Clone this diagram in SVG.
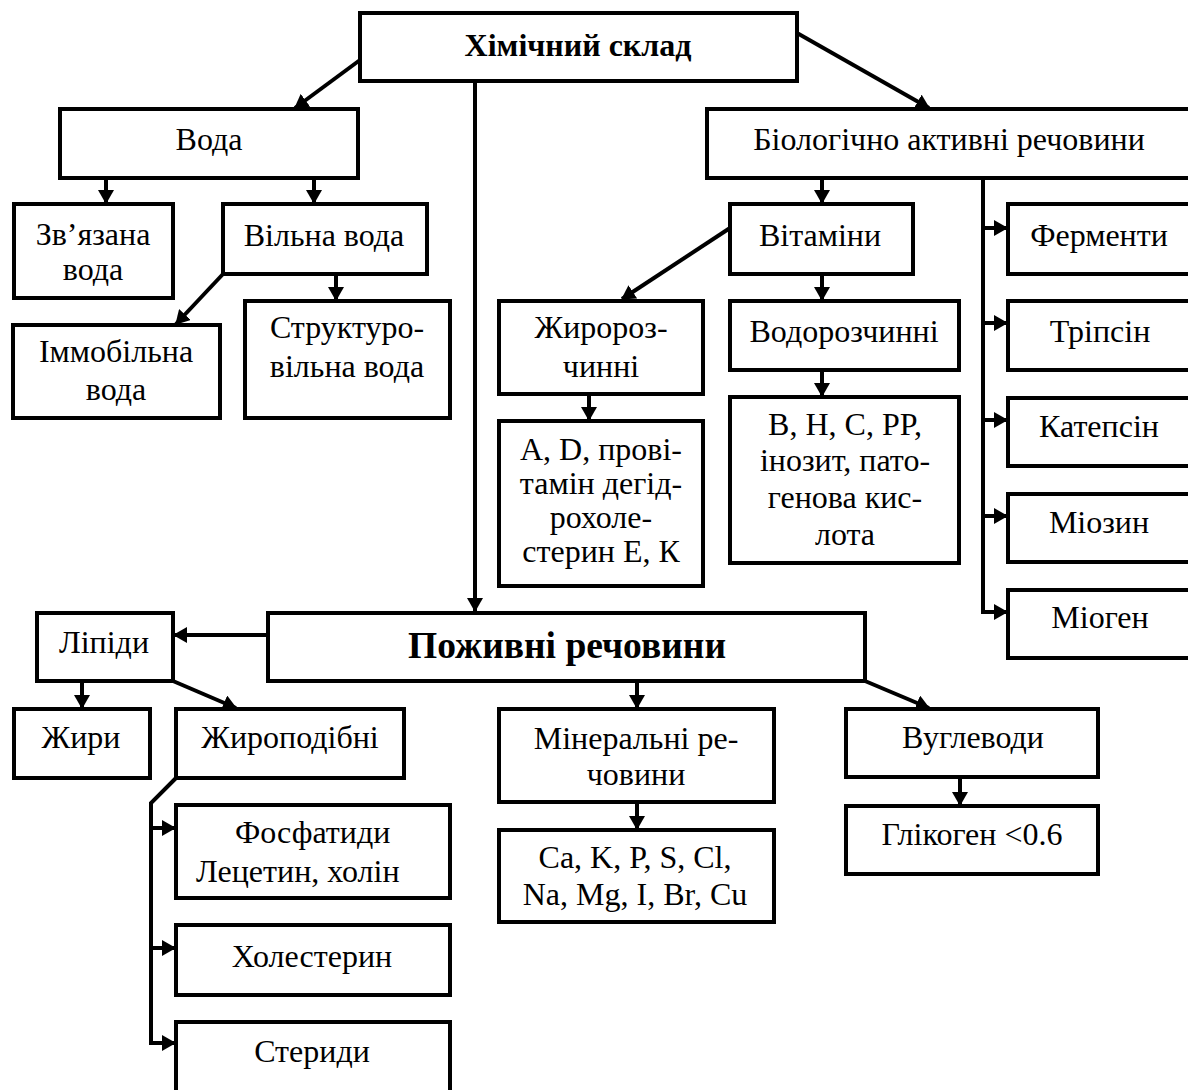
<svg xmlns="http://www.w3.org/2000/svg" width="1188" height="1090" viewBox="0 0 1188 1090">
<style>
rect{fill:#fff;stroke:#000;stroke-width:4}
text{font-family:"Liberation Serif","Times New Roman",serif;font-size:32px;fill:#000;text-anchor:middle}
.b{font-weight:bold;font-size:32px}
.bb{font-weight:bold;font-size:37.5px}
.st{text-anchor:start}
#connectors path,#connectors line{fill:none;stroke:#000;stroke-width:4}
</style>
<defs>
<marker id="ah" markerUnits="userSpaceOnUse" markerWidth="14" markerHeight="16" refX="13" refY="8" orient="auto">
<path d="M0,0 L14,8 L0,16 z" fill="#000"/>
</marker>
</defs>
<rect x="-10" y="-10" width="1210" height="1110" style="stroke:none"/>
<g id="connectors">
<line x1="360" y1="60" x2="295" y2="108" marker-end="url(#ah)"/>
<line x1="797" y1="33" x2="929" y2="108" marker-end="url(#ah)"/>
<line x1="475" y1="81" x2="475" y2="611" marker-end="url(#ah)"/>
<line x1="106" y1="178" x2="106" y2="203" marker-end="url(#ah)"/>
<line x1="314" y1="178" x2="314" y2="203" marker-end="url(#ah)"/>
<line x1="223" y1="274" x2="176" y2="324" marker-end="url(#ah)"/>
<line x1="336" y1="274" x2="336" y2="300" marker-end="url(#ah)"/>
<line x1="822" y1="178" x2="822" y2="203" marker-end="url(#ah)"/>
<path d="M983,178 V612"/>
<line x1="983" y1="228" x2="1007" y2="228" marker-end="url(#ah)"/>
<line x1="983" y1="323" x2="1007" y2="323" marker-end="url(#ah)"/>
<line x1="983" y1="420" x2="1007" y2="420" marker-end="url(#ah)"/>
<line x1="983" y1="516" x2="1007" y2="516" marker-end="url(#ah)"/>
<line x1="981" y1="612" x2="1007" y2="612" marker-end="url(#ah)"/>
<line x1="730" y1="228" x2="622" y2="299" marker-end="url(#ah)"/>
<line x1="589" y1="394" x2="589" y2="420" marker-end="url(#ah)"/>
<line x1="822" y1="274" x2="822" y2="300" marker-end="url(#ah)"/>
<line x1="822" y1="370" x2="822" y2="396" marker-end="url(#ah)"/>
<line x1="268" y1="635" x2="174" y2="635" marker-end="url(#ah)"/>
<line x1="82" y1="681" x2="82" y2="708" marker-end="url(#ah)"/>
<line x1="173" y1="681" x2="236" y2="708" marker-end="url(#ah)"/>
<path d="M176,778 L151,803 V1043"/>
<line x1="151" y1="828" x2="175" y2="828" marker-end="url(#ah)"/>
<line x1="151" y1="948" x2="175" y2="948" marker-end="url(#ah)"/>
<line x1="149" y1="1043" x2="175" y2="1043" marker-end="url(#ah)"/>
<line x1="637" y1="681" x2="637" y2="708" marker-end="url(#ah)"/>
<line x1="637" y1="802" x2="637" y2="829" marker-end="url(#ah)"/>
<line x1="865" y1="681" x2="929" y2="708" marker-end="url(#ah)"/>
<line x1="960" y1="777" x2="960" y2="805" marker-end="url(#ah)"/>
</g>
<g id="n-chem"><rect x="360" y="13" width="437" height="68"/><text class="b" x="578" y="56">Хімічний склад</text></g>
<g id="n-voda"><rect x="60" y="109" width="298" height="69"/><text x="209" y="150">Вода</text></g>
<g id="n-bio"><rect x="707" y="109" width="500" height="69"/><text x="949" y="150">Біологічно активні речовини</text></g>
<g id="n-zv"><rect x="14" y="204" width="159" height="94"/><text x="93" y="245">Зв’язана</text><text x="93" y="280">вода</text></g>
<g id="n-vil"><rect x="223" y="204" width="204" height="70"/><text x="324" y="246">Вільна вода</text></g>
<g id="n-vit"><rect x="730" y="204" width="183" height="70"/><text x="820" y="246">Вітаміни</text></g>
<g id="n-ferm"><rect x="1008" y="204" width="200" height="70"/><text x="1099" y="246">Ферменти</text></g>
<g id="n-imm"><rect x="13" y="325" width="207" height="93"/><text x="116" y="362">Іммобільна</text><text x="116" y="400">вода</text></g>
<g id="n-str"><rect x="245" y="301" width="205" height="117"/><text x="347" y="338">Структуро-</text><text x="347" y="377">вільна вода</text></g>
<g id="n-zhyr"><rect x="499" y="301" width="204" height="93"/><text x="601" y="338">Жиророз-</text><text x="601" y="377">чинні</text></g>
<g id="n-vodr"><rect x="730" y="301" width="229" height="69"/><text x="844" y="342">Водорозчинні</text></g>
<g id="n-trip"><rect x="1008" y="301" width="200" height="69"/><text x="1100" y="342">Тріпсін</text></g>
<g id="n-ad"><rect x="499" y="421" width="204" height="165"/><text x="601" y="460">A, D, прові-</text><text x="601" y="494">тамін дегід-</text><text x="601" y="528">рохоле-</text><text x="601" y="562">стерин Е, К</text></g>
<g id="n-bh"><rect x="730" y="397" width="229" height="166"/><text x="845" y="435">B, H, C, PP,</text><text x="845" y="471">інозит, пато-</text><text x="845" y="508">генова кис-</text><text x="845" y="545">лота</text></g>
<g id="n-kat"><rect x="1008" y="398" width="200" height="68"/><text x="1099" y="437">Катепсін</text></g>
<g id="n-mioz"><rect x="1008" y="494" width="200" height="68"/><text x="1099" y="533">Міозин</text></g>
<g id="n-miog"><rect x="1008" y="590" width="200" height="68"/><text x="1100" y="628">Міоген</text></g>
<g id="n-lip"><rect x="37" y="613" width="136" height="68"/><text x="104" y="653">Ліпіди</text></g>
<g id="n-pozh"><rect x="268" y="613" width="597" height="68"/><text class="bb" x="567" y="658">Поживні речовини</text></g>
<g id="n-zhyry"><rect x="14" y="709" width="136" height="69"/><text x="81" y="748">Жири</text></g>
<g id="n-zhpod"><rect x="176" y="709" width="228" height="69"/><text x="290" y="748">Жироподібні</text></g>
<g id="n-min"><rect x="499" y="709" width="275" height="93"/><text x="636" y="749">Мінеральні ре-</text><text x="636" y="785">човини</text></g>
<g id="n-vugl"><rect x="846" y="709" width="252" height="68"/><text x="973" y="748">Вуглеводи</text></g>
<g id="n-fosf"><rect x="176" y="805" width="274" height="93"/><text class="st" x="235" y="843">Фосфатиди</text><text class="st" x="196" y="882">Лецетин, холін</text></g>
<g id="n-ca"><rect x="499" y="830" width="275" height="92"/><text x="635" y="868">Ca, K, P, S, Cl,</text><text x="635" y="905">Na, Mg, I, Br, Cu</text></g>
<g id="n-glik"><rect x="846" y="806" width="252" height="68"/><text x="972" y="845">Глікоген &lt;0.6</text></g>
<g id="n-chol"><rect x="176" y="925" width="274" height="70"/><text x="312" y="967">Холестерин</text></g>
<g id="n-ster"><rect x="176" y="1022" width="274" height="100"/><text x="312" y="1062">Стериди</text></g>
</svg>
